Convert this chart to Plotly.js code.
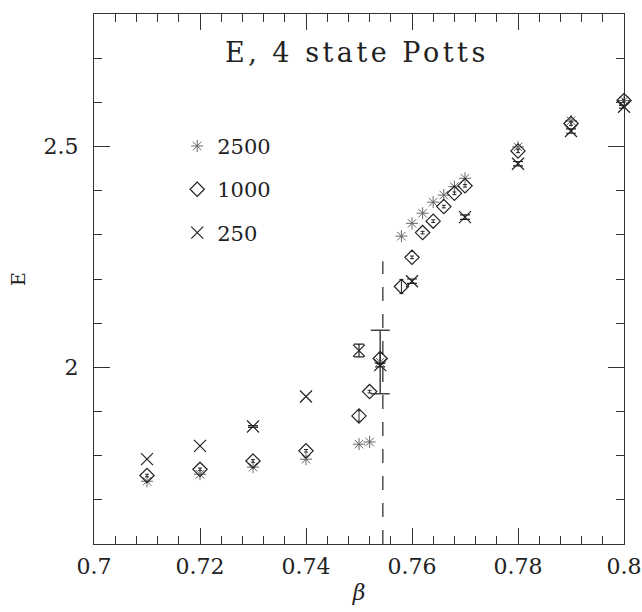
<!DOCTYPE html>
<html>
<head>
<meta charset="utf-8">
<script src="https://cdn.plot.ly/plotly-3.0.1.min.js"></script>
<style>
  body { margin: 0; padding: 0; background: #fff; }
  #chart { width: 642px; height: 612px; }
  .annotation-text { letter-spacing: 3.5px; }
</style>
</head>
<body>
<div id="chart"></div>
<script>
// ---- data ----
const beta2500 = [0.71, 0.72, 0.73, 0.74, 0.75, 0.752, 0.754, 0.758, 0.76, 0.762, 0.764, 0.766, 0.768, 0.77, 0.78, 0.79, 0.80];
const E2500    = [1.742, 1.758, 1.774, 1.792, 1.826, 1.831, 2.012, 2.297, 2.326, 2.349, 2.374, 2.390, 2.409, 2.428, 2.499, 2.558, 2.604];
// NaN = no error bar drawn for that point
const err2500  = [NaN, NaN, NaN, NaN, NaN, NaN, 0.072, NaN, NaN, NaN, NaN, NaN, NaN, NaN, NaN, NaN, NaN];

const beta1000 = [0.71, 0.72, 0.73, 0.74, 0.75, 0.752, 0.754, 0.758, 0.76, 0.762, 0.764, 0.766, 0.768, 0.77, 0.78, 0.79, 0.80];
const E1000    = [1.755, 1.769, 1.788, 1.811, 1.890, 1.945, 2.020, 2.183, 2.249, 2.305, 2.331, 2.364, 2.394, 2.411, 2.490, 2.552, 2.604];
const err1000  = [0.003, 0.003, 0.003, 0.003, 0.012, 0.003, 0.012, 0.016, 0.003, 0.003, 0.003, 0.003, 0.003, 0.003, 0.004, 0.004, 0.003];

const beta250 = [0.71, 0.72, 0.73, 0.74, 0.75, 0.754, 0.76, 0.77, 0.78, 0.79, 0.80];
const E250    = [1.792, 1.822, 1.866, 1.934, 2.038, 2.005, 2.195, 2.340, 2.461, 2.535, 2.590];
const err250  = [NaN, NaN, 0.002, NaN, 0.0145, 0.004, 0.005, 0.005, 0.005, 0.005, 0.003];

const seriesNames = ['2500', '1000', '250'];
const betaCritical = 0.7545;
const dashedTop = 2.24;
const titleText = 'E, 4 state Potts';
const xTickVals = [0.7, 0.72, 0.74, 0.76, 0.78, 0.8];
const xTickText = ['0.7', '0.72', '0.74', '0.76', '0.78', '0.8'];

const serif = 'DejaVu Serif, Liberation Serif, serif';
const ink = '#222';

const traces = [
  {
    x: beta2500, y: E2500, name: seriesNames[0], legendgroup: 'a',
    type: 'scatter', mode: 'markers', cliponaxis: false,
    marker: { symbol: 'asterisk-open', size: 10, color: '#666', line: { color: '#666', width: 1 } },
    error_y: { type: 'data', array: err2500, visible: true, color: '#444', thickness: 1.5, width: 9.5 }
  },
  {
    x: beta1000, y: E1000, name: seriesNames[1], legendgroup: 'b',
    type: 'scatter', mode: 'markers', cliponaxis: false,
    marker: { symbol: 'diamond-open', size: 11, color: ink, line: { color: ink, width: 1.2 } },
    error_y: { type: 'data', array: err1000, visible: true, color: ink, thickness: 1, width: 2 }
  },
  {
    x: beta250, y: E250, name: seriesNames[2], legendgroup: 'c',
    type: 'scatter', mode: 'markers', cliponaxis: false,
    marker: { symbol: 'x-thin-open', size: 12, color: ink, line: { color: ink, width: 1.2 } },
    error_y: { type: 'data', array: err250, visible: true, color: ink, thickness: 1.2, width: 5 }
  }
];

const axisCommon = {
  showline: true, linecolor: '#333', linewidth: 1, mirror: 'allticks',
  ticks: 'inside', ticklen: 16, tickwidth: 1, tickcolor: '#333',
  showgrid: false, zeroline: false, ticklabeloverflow: 'allow',
  tickfont: { family: serif, size: 22, color: ink }
};

const layout = {
  width: 642, height: 612,
  margin: { l: 94, r: 18, t: 14, b: 68 },
  paper_bgcolor: '#fff', plot_bgcolor: '#fff',
  showlegend: true,
  legend: {
    x: 0.157, xanchor: 'left', y: 0.789, yanchor: 'top',
    font: { family: serif, size: 21, color: ink },
    bgcolor: 'rgba(0,0,0,0)', borderwidth: 0,
    traceorder: 'grouped', tracegroupgap: 13
  },
  xaxis: Object.assign({}, axisCommon, {
    range: [0.7, 0.8], tickmode: 'array', tickvals: xTickVals, ticktext: xTickText,
    ticklabelstandoff: 3,
    minor: { tick0: 0.7, dtick: 0.004, ticklen: 8, tickwidth: 1, tickcolor: '#333', ticks: 'inside', showgrid: false },
    title: { text: '<i>β</i>', font: { family: serif, size: 22, color: ink }, standoff: 6 }
  }),
  yaxis: Object.assign({}, axisCommon, {
    range: [1.6, 2.8], tick0: 2, dtick: 0.5,
    ticklabelstandoff: 10,
    minor: { dtick: 0.1, ticklen: 8, tickwidth: 1, tickcolor: '#333', ticks: 'inside', showgrid: false },
    title: { text: 'E', font: { family: serif, size: 19, color: ink }, standoff: 12 }
  }),
  shapes: [{
    type: 'line', xref: 'x', yref: 'y',
    x0: betaCritical, x1: betaCritical, y0: 1.6, y1: dashedTop,
    line: { color: ink, width: 1.2, dash: '14px,13px' }
  }],
  annotations: [{
    text: titleText, xref: 'paper', yref: 'paper', x: 0.497, y: 0.928,
    xanchor: 'center', yanchor: 'middle', showarrow: false,
    font: { family: serif, size: 27, color: ink }
  }]
};

Plotly.newPlot('chart', traces, layout, { staticPlot: true, displayModeBar: false });
</script>
</body>
</html>
